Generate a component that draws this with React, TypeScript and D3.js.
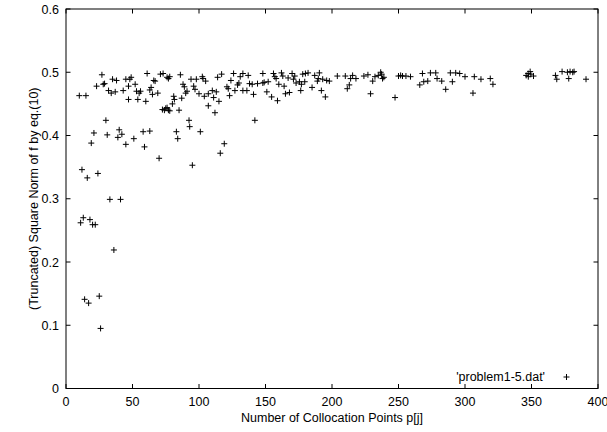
import React from 'react';
import * as d3 from 'd3';

// collocation points p[j] and the truncated square norm
const pointsX = [
  27, 10, 15, 23, 28, 29, 35, 38, 32, 34, 37, 43, 45, 48, 49, 47, 52, 53, 56, 55,
  61, 66, 67, 71, 73, 76, 63, 64, 65, 69, 47, 54, 60, 72.5, 75, 77, 30, 21, 31, 40,
  42, 39, 19, 45, 51, 58, 63, 59, 70, 12, 16, 24,
  33, 41, 13, 11, 18, 20, 22, 36,
  14, 17, 25, 26,
  86, 77, 78, 88, 89, 91, 90, 94, 98, 102.5, 103, 105, 96, 97, 100, 104, 107, 110, 113, 81,
  81.5, 87, 80, 74, 76, 78, 85, 107, 111, 115, 112, 117, 114, 121, 122, 124, 126, 129, 131, 133,
  130, 127, 136, 133, 137, 138, 140, 123, 141, 144, 148, 149, 152, 151, 92.5, 93, 83, 84, 101, 142,
  119, 116, 95,
  148, 154.6, 159, 156, 157, 158, 162, 163, 167, 170, 172, 160, 164, 165, 168, 171, 173, 175.5, 178, 177,
  180, 182, 179.5, 176.5, 185, 187, 190.5, 189.7, 189, 193, 196, 198, 192, 195, 204, 210, 215.5, 214, 218, 213,
  211.5, 224, 227,
  230.6, 232.3, 234.8, 236.6, 237.3, 238, 239, 250, 251.6, 253, 255.6, 259, 229, 247.4, 268, 266, 269, 272, 274, 278,
  279, 282.5, 285.5, 289, 293, 296, 290.5, 300,
  307, 312, 319, 321, 306, 346, 347.5, 349, 349.5, 351.5, 347.6, 368, 369, 373, 377, 379, 381, 382, 378, 391,
];
const pointsY = [
  0.496, 0.463, 0.463, 0.478, 0.481, 0.482, 0.489, 0.487, 0.471, 0.467, 0.469, 0.471, 0.489, 0.489, 0.492, 0.478, 0.481, 0.47, 0.47, 0.467,
  0.498, 0.487, 0.486, 0.497, 0.498, 0.492, 0.472, 0.476, 0.465, 0.467, 0.457, 0.457, 0.454, 0.441, 0.443, 0.44, 0.424, 0.404, 0.401, 0.409,
  0.402, 0.397, 0.388, 0.386, 0.395, 0.406, 0.407, 0.382, 0.364, 0.346, 0.333, 0.34,
  0.299, 0.299, 0.27, 0.262, 0.267, 0.259, 0.259, 0.219,
  0.141, 0.135, 0.146, 0.095,
  0.496, 0.49, 0.493, 0.481, 0.477, 0.47, 0.467, 0.489, 0.489, 0.493, 0.49, 0.486, 0.478, 0.473, 0.466, 0.462, 0.466, 0.471, 0.469, 0.462,
  0.457, 0.459, 0.45, 0.44, 0.444, 0.439, 0.44, 0.447, 0.46, 0.454, 0.436, 0.497, 0.492, 0.477, 0.474, 0.487, 0.498, 0.48, 0.493, 0.498,
  0.483, 0.471, 0.471, 0.471, 0.495, 0.482, 0.481, 0.463, 0.465, 0.482, 0.498, 0.484, 0.485, 0.469, 0.424, 0.414, 0.406, 0.395, 0.406, 0.424,
  0.387, 0.372, 0.353,
  0.483, 0.461, 0.455, 0.498, 0.493, 0.49, 0.499, 0.494, 0.491, 0.498, 0.494, 0.481, 0.478, 0.466, 0.468, 0.489, 0.483, 0.485, 0.497, 0.481,
  0.498, 0.499, 0.485, 0.471, 0.476, 0.495, 0.499, 0.49, 0.486, 0.489, 0.487, 0.486, 0.471, 0.461, 0.494, 0.494, 0.495, 0.49, 0.49, 0.48,
  0.474, 0.494, 0.496,
  0.486, 0.493, 0.495, 0.5, 0.497, 0.49, 0.492, 0.494, 0.495, 0.494, 0.494, 0.493, 0.466, 0.46, 0.498, 0.48, 0.485, 0.486, 0.499, 0.499,
  0.49, 0.486, 0.473, 0.499, 0.499, 0.498, 0.485, 0.493,
  0.493, 0.489, 0.49, 0.481, 0.467, 0.495, 0.498, 0.501, 0.497, 0.494, 0.493, 0.495, 0.489, 0.501, 0.5, 0.501, 0.5, 0.501, 0.49, 0.489,
];

const xTicks = [0, 50, 100, 150, 200, 250, 300, 350, 400];
const yTicks = [0, 0.1, 0.2, 0.3, 0.4, 0.5, 0.6];
const legendLabel = "'problem1-5.dat'";

const width = 607;
const height = 432;
const left = 66, right = 598, top = 9, bottom = 388.5;
const font = '"Liberation Sans", Arial, sans-serif';

export default function App() {
  const x = d3.scaleLinear().domain([0, 400]).range([left, right]);
  const y = d3.scaleLinear().domain([0, 0.6]).range([bottom, top]);
  const tick = 4.5;
  const s = 3; // half size of the "+" marker

  const plus = (cx: number, cy: number) =>
    `M${cx - s},${cy}H${cx + s}M${cx},${cy - s}V${cy + s}`;

  const marks = pointsX.map((v, i) => plus(x(v), y(pointsY[i]))).join('');

  return (
    <svg width={width} height={height} style={{ position: 'absolute', left: 0, top: 0, background: '#fff' }}
      fontFamily={font} fontSize={12.5}>
      <rect x={0} y={0} width={width} height={height} fill="#fff" />
      {/* ticks on all four sides */}
      {xTicks.map((t) => (
        <g key={'x' + t} stroke="#000" strokeWidth={1}>
          <line x1={x(t)} x2={x(t)} y1={bottom} y2={bottom - tick} />
          <line x1={x(t)} x2={x(t)} y1={top} y2={top + tick} />
        </g>
      ))}
      {yTicks.map((t) => (
        <g key={'y' + t} stroke="#000" strokeWidth={1}>
          <line x1={left} x2={left + tick} y1={y(t)} y2={y(t)} />
          <line x1={right} x2={right - tick} y1={y(t)} y2={y(t)} />
        </g>
      ))}
      <rect x={left} y={top} width={right - left} height={bottom - top} fill="none" stroke="#000" strokeWidth={1} />

      {xTicks.map((t) => (
        <text key={'xl' + t} x={x(t)} y={406} textAnchor="middle">{t}</text>
      ))}
      {yTicks.map((t) => (
        <text key={'yl' + t} x={left - 7} y={y(t) + 4.5} textAnchor="end">{t === 0 ? '0' : t.toFixed(1)}</text>
      ))}

      <text x={332} y={422} textAnchor="middle">Number of Collocation Points p[j]</text>
      <text transform={`translate(38,${(top + bottom) / 2}) rotate(-90)`} textAnchor="middle">
        (Truncated) Square Norm of f by eq.(10)
      </text>

      <path d={marks} stroke="#000" strokeWidth={1} fill="none" />

      {/* legend */}
      <text x={545} y={381} textAnchor="end">{legendLabel}</text>
      <path d={plus(566.5, 377)} stroke="#000" strokeWidth={1} fill="none" />
    </svg>
  );
}
